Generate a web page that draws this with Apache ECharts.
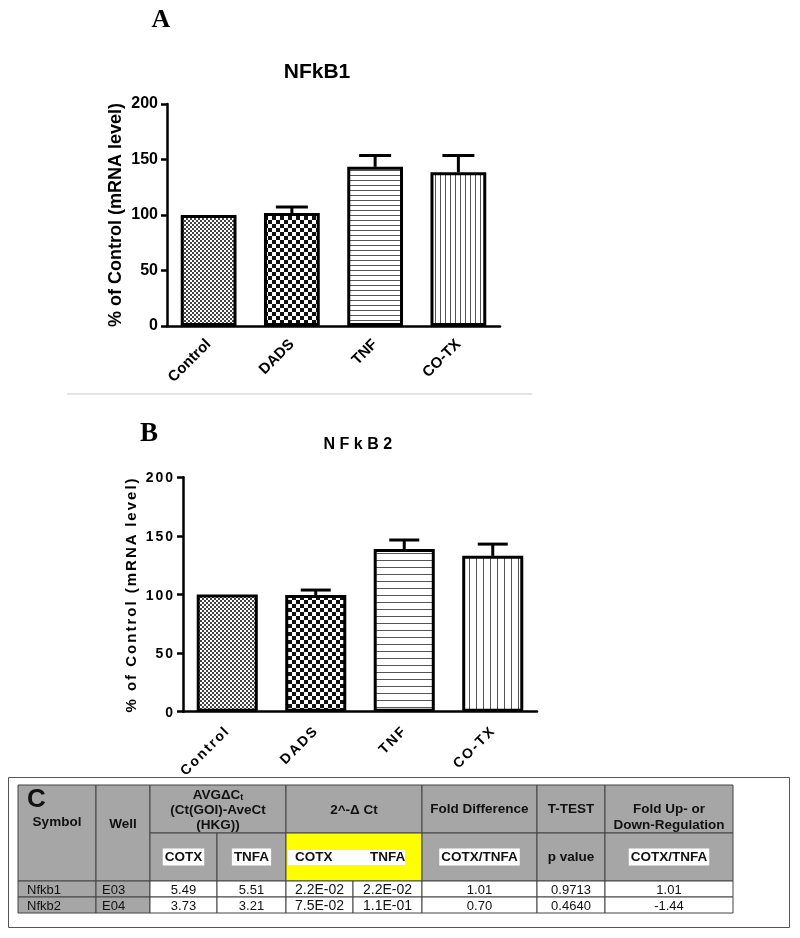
<!DOCTYPE html>
<html>
<head>
<meta charset="utf-8">
<script src="https://cdn.jsdelivr.net/npm/echarts/dist/echarts.min.js"></script>
<style>
html,body{margin:0;padding:0;background:#fff;}
.layer{position:absolute;left:0;top:0;width:800px;height:938px;}
#chartB text{letter-spacing:2px;}
#titleB text{letter-spacing:4.5px;}
</style>
</head>
<body>
<div id="chartA" class="layer"></div>
<div id="chartB" class="layer"></div>
<div id="titleB" class="layer"></div>
<div id="tableC" class="layer"></div>
<script>
// ---------------- DATA ----------------
const categories = ['Control', 'DADS', 'TNF', 'CO-TX'];
const nfkb1Mean = [100, 101.8, 143.4, 138.5];
const nfkb1Sem  = [0, 5.4, 10.2, 15.1];
const nfkb2Mean = [100, 99.5, 138.8, 133];
const nfkb2Sem  = [0, 4.3, 7.7, 10];
const yMin = 0, yMax = 200, yStep = 50;

const titleA = 'NFkB1';
const titleB = 'NFkB2';
const yName = '% of Control (mRNA level)';

// table
const tableSymbols = ['Nfkb1', 'Nfkb2'];
const tableWells   = ['E03', 'E04'];
const avgDCtCOTX   = ['5.49', '3.73'];
const avgDCtTNFA   = ['5.51', '3.21'];
const pow2COTX     = ['2.2E-02', '7.5E-02'];
const pow2TNFA     = ['2.2E-02', '1.1E-01'];
const foldDiff     = ['1.01', '0.70'];
const pValue       = ['0.9713', '0.4640'];
const foldReg      = ['1.01', '-1.44'];

// ---------------- STYLE HELPERS ----------------
const FONT = 'Arial, "Liberation Sans", Helvetica, sans-serif';
const SERIF = '"Liberation Serif", "DejaVu Serif", serif';

function mk(w, h, draw) {
  const c = document.createElement('canvas');
  c.width = w; c.height = h;
  const g = c.getContext('2d');
  g.fillStyle = '#fff'; g.fillRect(0, 0, w, h);
  draw(g);
  return { image: c, repeat: 'repeat', imageWidth: w, imageHeight: h };
}
function checker(s, col) {
  return mk(2 * s, 2 * s, g => { g.fillStyle = col; g.fillRect(0, 0, s, s); g.fillRect(s, s, s, s); });
}
function hlines(p) { return mk(4, p, g => { g.fillStyle = '#555'; g.fillRect(0, 0, 4, 1); }); }
function vlines(p) { return mk(p, 4, g => { g.fillStyle = '#555'; g.fillRect(0, 0, 1, 4); }); }

const patternsA = [checker(2, '#444'), checker(4, '#111'), hlines(5), vlines(5)];
const patternsB = [checker(2, '#444'), checker(4, '#111'), hlines(7), vlines(7)];

function errorSeries(mean, sem, cap) {
  return {
    type: 'custom',
    z: 1,
    encode: { x: 0, y: [1, 2] },
    data: categories.map((c, i) => [i, mean[i], mean[i] + sem[i]]),
    renderItem: function (params, api) {
      const lo = api.value(1), hi = api.value(2);
      if (!(hi > lo)) return null;
      const p0 = api.coord([api.value(0), lo]);
      const p1 = api.coord([api.value(0), hi]);
      return {
        type: 'group',
        children: [
          { type: 'line', shape: { x1: p0[0], y1: p0[1], x2: p1[0], y2: p1[1] }, style: { stroke: '#000', lineWidth: 3 } },
          { type: 'line', shape: { x1: p1[0] - cap, y1: p1[1], x2: p1[0] + cap, y2: p1[1] }, style: { stroke: '#000', lineWidth: 3 } }
        ]
      };
    }
  };
}

function panelOption(cfg) {
  return {
    animation: false,
    textStyle: { fontFamily: FONT },
    grid: { left: cfg.left, top: cfg.top, width: cfg.width, height: cfg.height, containLabel: false, outerBoundsMode: 'none' },
    xAxis: {
      type: 'category', data: categories,
      axisLine: { lineStyle: { color: '#000', width: 2.5 } },
      axisTick: { alignWithLabel: true, length: 7, lineStyle: { color: '#000', width: 2.5 } },
      axisLabel: { rotate: 45, interval: 0, fontSize: cfg.xFont, fontWeight: 'bold', color: '#000', margin: cfg.xMargin, fontFamily: FONT }
    },
    yAxis: {
      type: 'value', min: yMin, max: yMax, interval: yStep,
      axisLine: { show: true, lineStyle: { color: '#000', width: 2.5 } },
      axisTick: { show: true, length: 6, lineStyle: { color: '#000', width: 2.5 } },
      splitLine: { show: false },
      axisLabel: { fontSize: cfg.yFont, fontWeight: 'bold', color: '#000', margin: cfg.yMargin, fontFamily: FONT },
      name: yName, nameLocation: 'middle', nameGap: cfg.nameGap,
      nameTextStyle: { fontSize: cfg.nameFont, fontWeight: 'bold', color: '#000', fontFamily: FONT }
    },
    series: [
      {
        type: 'bar', z: 2,
        barWidth: cfg.barWidth,
        data: categories.map((c, i) => ({ value: cfg.mean[i], itemStyle: { color: cfg.patterns[i] } })),
        itemStyle: { borderColor: '#000', borderWidth: 3 }
      },
      errorSeries(cfg.mean, cfg.sem, cfg.cap)
    ],
    graphic: cfg.graphic || []
  };
}

// ---------------- PANEL A ----------------
const chartA = echarts.init(document.getElementById('chartA'), null, { renderer: 'canvas' });
chartA.setOption(panelOption({
  left: 167, top: 104, width: 333, height: 222,
  xFont: 15, xMargin: 16, yFont: 16, yMargin: 9, nameGap: 42, nameFont: 18,
  barWidth: '67%', mean: nfkb1Mean, sem: nfkb1Sem, patterns: patternsA, cap: 16,
  graphic: [
    { type: 'text', x: 161, y: 20, style: { text: 'A', font: 'bold 26px ' + SERIF, fill: '#000', align: 'center', verticalAlign: 'middle' } },
    { type: 'text', x: 317, y: 72, style: { text: titleA, font: 'bold 21px ' + FONT, fill: '#000', align: 'center', verticalAlign: 'middle' } },
    { type: 'line', shape: { x1: 67, y1: 394, x2: 532, y2: 394 }, style: { stroke: '#e4e4e4', lineWidth: 2 } },
    { type: 'text', x: 149, y: 434, style: { text: 'B', font: 'bold 27px ' + SERIF, fill: '#000', align: 'center', verticalAlign: 'middle' } }
  ]
}));

// ---------------- PANEL B ----------------
const chartB = echarts.init(document.getElementById('chartB'), null, { renderer: 'svg' });
chartB.setOption(panelOption({
  left: 183, top: 477.3, width: 354, height: 234.4,
  xFont: 14, xMargin: 16, yFont: 14, yMargin: 8, nameGap: 45, nameFont: 15,
  barWidth: '69%', mean: nfkb2Mean, sem: nfkb2Sem, patterns: patternsB, cap: 15
}));

const chartTB = echarts.init(document.getElementById('titleB'), null, { renderer: 'svg' });
chartTB.setOption({
  animation: false,
  graphic: [
    { type: 'text', x: 360, y: 443, style: { text: titleB, font: 'bold 16px ' + FONT, fill: '#000', align: 'center', verticalAlign: 'middle' } }
  ]
});

// ---------------- TABLE C ----------------
const cols = [18, 96, 150, 217, 286, 353, 422, 537, 605, 733];
const rows = [785, 833, 881, 897, 913];
const GREY = '#a6a6a6', LINE = '#444', YEL = '#ffff00';
const HB = 'bold 13.5px ' + FONT;
const g = [];
function cell(c0, c1, r0, r1, fill) {
  g.push({ type: 'rect', shape: { x: cols[c0], y: rows[r0], width: cols[c1] - cols[c0], height: rows[r1] - rows[r0] },
           style: { fill: fill, stroke: LINE, lineWidth: 1 } });
}
function txt(x, y, text, font, align, extra) {
  g.push({ type: 'text', x: x, y: y, z: 10, style: Object.assign({ text: text, font: font, fill: '#111', align: align || 'center', verticalAlign: 'middle' }, extra || {}) });
}
const mid = (a, b) => (cols[a] + cols[b]) / 2;

// outer box
g.push({ type: 'rect', shape: { x: 8.5, y: 777.5, width: 781, height: 150 }, style: { fill: 'none', stroke: '#555', lineWidth: 1 } });

// header row 1
cell(0, 1, 0, 2, GREY); cell(1, 2, 0, 2, GREY);
cell(2, 4, 0, 1, GREY); cell(4, 6, 0, 1, GREY);
cell(6, 7, 0, 1, GREY); cell(7, 8, 0, 1, GREY); cell(8, 9, 0, 1, GREY);
// header row 2
cell(2, 3, 1, 2, GREY); cell(3, 4, 1, 2, GREY); cell(4, 6, 1, 2, YEL);
cell(6, 7, 1, 2, GREY); cell(7, 8, 1, 2, GREY); cell(8, 9, 1, 2, GREY);

txt(27, 800, 'C', 'bold 26px ' + FONT, 'left');
txt(57, 822, 'Symbol', HB);
txt(mid(1, 2), 824, 'Well', HB);
g.push({ type: 'text', x: mid(2, 4), y: 810, z: 10, style: {
  text: '{a|AVGΔC}{s|t}\n(Ct(GOI)-AveCt\n(HKG))', font: HB, fill: '#111', align: 'center', verticalAlign: 'middle', lineHeight: 15,
  rich: { a: { font: HB, fill: '#111', lineHeight: 15 }, s: { font: 'bold 9px ' + FONT, fill: '#111', verticalAlign: 'bottom', lineHeight: 15 } } } });
txt(mid(4, 6), 810, '2^-Δ Ct', HB);
txt(mid(6, 7), 809, 'Fold Difference', HB);
txt(mid(7, 8), 809, 'T-TEST', HB);
txt(mid(8, 9), 817, 'Fold Up- or\nDown-Regulation', HB, 'center', { lineHeight: 16 });

const hl = { backgroundColor: '#fff', padding: [2, 2, 1, 2] };
txt(mid(2, 3), 857, 'COTX', HB, 'center', hl);
txt(mid(3, 4), 857, 'TNFA', HB, 'center', hl);
g.push({ type: 'rect', z: 5, shape: { x: 288, y: 850, width: 117, height: 15 }, style: { fill: '#fff' } });
txt(295, 857.5, 'COTX', HB, 'left');
txt(370, 857.5, 'TNFA', HB, 'left');
txt(mid(6, 7), 857, 'COTX/TNFA', HB, 'center', hl);
txt(mid(7, 8), 857, 'p value', HB);
txt(mid(8, 9), 857, 'COTX/TNFA', HB, 'center', hl);

// data rows
const DF = '13px ' + FONT;
const EF = '14px ' + FONT;
for (let r = 0; r < tableSymbols.length; r++) {
  const ri = 2 + r;
  cell(0, 1, ri, ri + 1, GREY); cell(1, 2, ri, ri + 1, GREY);
  for (let c = 2; c < 9; c++) cell(c, c + 1, ri, ri + 1, '#fff');
  const y = (rows[ri] + rows[ri + 1]) / 2 + 1;
  txt(27, y, tableSymbols[r], DF, 'left');
  txt(102, y, tableWells[r], DF, 'left');
  txt(mid(2, 3), y, avgDCtCOTX[r], DF);
  txt(mid(3, 4), y, avgDCtTNFA[r], DF);
  txt(mid(4, 5), y, pow2COTX[r], EF);
  txt(mid(5, 6), y, pow2TNFA[r], EF);
  txt(mid(6, 7), y, foldDiff[r], DF);
  txt(mid(7, 8), y, pValue[r], DF);
  txt(mid(8, 9), y, foldReg[r], DF);
}

const chartC = echarts.init(document.getElementById('tableC'), null, { renderer: 'canvas' });
chartC.setOption({ animation: false, graphic: g });
</script>
</body>
</html>
